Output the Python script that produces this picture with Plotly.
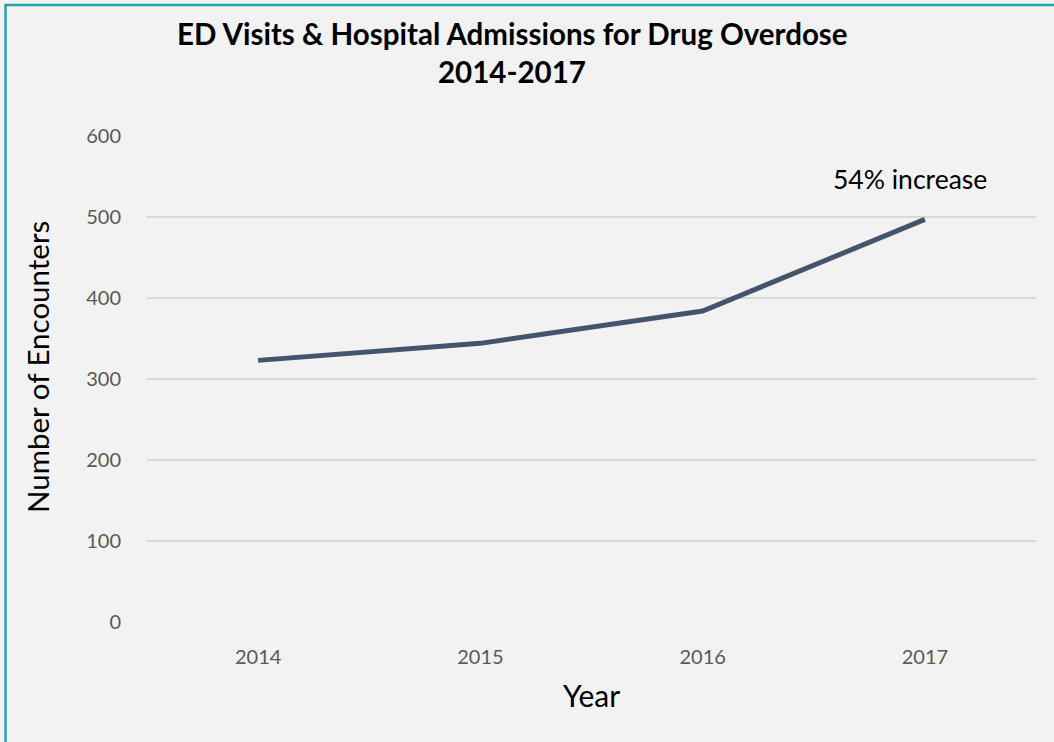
import plotly.graph_objects as go

years = ["2014", "2015", "2016", "2017"]
encounters = [323, 344, 384, 497]
y_ticks = [0, 100, 200, 300, 400, 500, 600]

title_line1 = "ED Visits & Hospital Admissions for Drug Overdose"
title_line2 = "2014-2017"
annotation_text = "54% increase"

W, H = 1054, 742
L, R, T, B = 147, 18, 136, 120
pw, ph = W - L - R, H - T - B

def px(x):
    return (x - L) / pw

def py(y):
    return (H - B - y) / ph

FONT = "Lato, Calibri, sans-serif"
BORDER = "#26A2A4"

fig = go.Figure()
fig.add_trace(go.Scatter(
    x=years, y=encounters, mode="lines",
    line=dict(color="#44546A", width=5),
    hoverinfo="x+y", showlegend=False,
))

fig.update_layout(
    width=W, height=H,
    margin=dict(l=L, r=R, t=T, b=B),
    paper_bgcolor="#F2F2F2", plot_bgcolor="#F2F2F2",
    font=dict(family=FONT, color="#595959"),
    xaxis=dict(
        type="category", range=[-0.5, 3.5],
        showgrid=False, showline=False, zeroline=False,
        ticks="", tickfont=dict(size=20, color="#595959"),
        ticklabelstandoff=21,
    ),
    yaxis=dict(
        range=[0, 600], tickvals=y_ticks,
        showgrid=True, gridcolor="#D9D9D9", gridwidth=1.5,
        zeroline=False, showline=False, ticks="",
        tickfont=dict(size=20, color="#595959"),
        ticklabelstandoff=25,
    ),
    annotations=[
        dict(text="<b>" + title_line1 + "</b>", x=px(512), y=py(33), xref="paper", yref="paper",
             showarrow=False, font=dict(size=29.5, color="#000000", family=FONT), xanchor="center", yanchor="middle"),
        dict(text="<b>" + title_line2 + "</b>", x=px(512), y=py(72), xref="paper", yref="paper",
             showarrow=False, font=dict(size=29.5, color="#000000", family=FONT), xanchor="center", yanchor="middle"),
        dict(text="Number of Encounters", x=px(37), y=py(367), xref="paper", yref="paper",
             showarrow=False, textangle=-90, font=dict(size=29.5, color="#000000", family=FONT),
             xanchor="center", yanchor="middle"),
        dict(text="Year", x=px(591), y=py(695), xref="paper", yref="paper",
             showarrow=False, font=dict(size=30, color="#000000", family=FONT),
             xanchor="center", yanchor="middle"),
        dict(text=annotation_text, x=px(910), y=py(179), xref="paper", yref="paper",
             showarrow=False, font=dict(size=26.5, color="#000000", family=FONT),
             xanchor="center", yanchor="middle"),
    ],
    shapes=[
        dict(type="line", xref="paper", yref="paper", x0=px(5.5), x1=px(5.5), y0=py(4.5), y1=py(760),
             line=dict(color=BORDER, width=2.5)),
        dict(type="line", xref="paper", yref="paper", x0=px(4.5), x1=px(1070), y0=py(5), y1=py(5),
             line=dict(color=BORDER, width=2.5)),
    ],
)

fig.write_html("out.html")
